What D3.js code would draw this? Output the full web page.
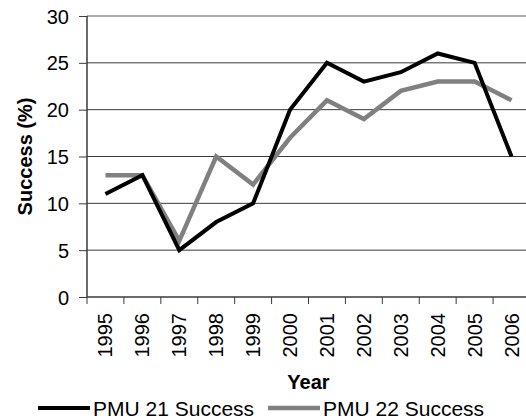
<!DOCTYPE html>
<html>
<head>
<meta charset="utf-8">
<script src="https://cdn.jsdelivr.net/npm/d3@7"></script>
<style>
  body { margin: 0; background: #fff; }
  svg { font-family: "Liberation Sans", Arial, sans-serif; }
</style>
</head>
<body>
<div id="chart"></div>
<script>
// chart data
const years = ['1995', '1996', '1997', '1998', '1999', '2000', '2001', '2002', '2003', '2004', '2005', '2006'];
const pmu21 = [11, 13, 5, 8, 10, 20, 25, 23, 24, 26, 25, 15];
const pmu22 = [13, 13, 6, 15, 12, 17, 21, 19, 22, 23, 23, 21];
const yTicks = [0, 5, 10, 15, 20, 25, 30];

const series = [
    {name: 'PMU 21 Success', values: pmu21, color: '#000000', width: 4},
    {name: 'PMU 22 Success', values: pmu22, color: '#808080', width: 4.5}
];

const svg = d3.select('#chart')
    .append('svg')
    .attr('width', 526)
    .attr('height', 419);

const margin = {top: 16, right: -4, bottom: 122, left: 87};
const width = 526 - margin.left - margin.right;
const height = 419 - margin.top - margin.bottom;
const g = svg.append('g').attr('transform', `translate(${margin.left},${margin.top})`);

const x = d3.scaleBand().domain(years).range([0, width]);
const y = d3.scaleLinear().domain([0, 30]).range([height, 0]);

// gridlines
g.selectAll('.grid')
    .data(yTicks.filter(d => d > 0))
    .enter().append('line')
    .attr('class', 'grid')
    .attr('x1', 0)
    .attr('x2', width)
    .attr('y1', d => y(d))
    .attr('y2', d => y(d))
    .attr('stroke', d => d === 30 ? '#8c8c8c' : '#3a3a3a')
    .attr('stroke-width', d => d === 30 ? 1.6 : 1);

// y axis
const yAxis = g.append('g')
    .call(d3.axisLeft(y).tickValues(yTicks).tickSize(8).tickPadding(10));
yAxis.select('.domain').remove();
yAxis.selectAll('line').attr('stroke', '#3a3a3a');
yAxis.selectAll('text').attr('font-size', 20).attr('fill', '#000').attr('dy', '0.35em');

// x axis: ticks on category boundaries, labels at centres
const bounds = years.map(d => x(d)).concat([width]);
g.selectAll('.xtick')
    .data(bounds)
    .enter().append('line')
    .attr('x1', d => d).attr('x2', d => d)
    .attr('y1', height).attr('y2', height + 7)
    .attr('stroke', '#3a3a3a');

g.selectAll('.xlabel')
    .data(years)
    .enter().append('text')
    .attr('transform', d => `translate(${x(d) + x.bandwidth() / 2},${height + 16}) rotate(-90)`)
    .attr('text-anchor', 'end')
    .attr('dy', '0.35em')
    .attr('font-size', 20)
    .text(d => d);

g.append('line')
    .attr('x1', 0).attr('x2', width)
    .attr('y1', height).attr('y2', height)
    .attr('stroke', '#3a3a3a').attr('stroke-width', 1.5);
g.append('line')
    .attr('x1', 0).attr('x2', 0)
    .attr('y1', 0).attr('y2', height)
    .attr('stroke', '#3a3a3a').attr('stroke-width', 1.5);

// lines
const line = d3.line()
    .x((d, i) => x(years[i]) + x.bandwidth() / 2)
    .y(d => y(d));

series.slice().reverse().forEach(s => {
    g.append('path')
        .datum(s.values)
        .attr('fill', 'none')
        .attr('stroke', s.color)
        .attr('stroke-width', s.width)
        .attr('d', line);
});

// axis titles
svg.append('text')
    .attr('transform', `translate(32,${margin.top + height / 2}) rotate(-90)`)
    .attr('text-anchor', 'middle')
    .attr('font-size', 20)
    .attr('font-weight', 'bold')
    .text('Success (%)');

svg.append('text')
    .attr('x', margin.left + width / 2)
    .attr('y', 389)
    .attr('text-anchor', 'middle')
    .attr('font-size', 20)
    .attr('font-weight', 'bold')
    .text('Year');

// legend
const legendX = [38, 268];
const legend = svg.selectAll('.legend')
    .data(series)
    .enter().append('g')
    .attr('transform', (d, i) => `translate(${legendX[i]},408)`);
legend.append('line')
    .attr('x1', 0).attr('x2', 52)
    .attr('stroke', d => d.color)
    .attr('stroke-width', d => d.width);
legend.append('text')
    .attr('x', 55)
    .attr('y', 8)
    .attr('font-size', 21)
    .text(d => d.name);
</script>
</body>
</html>
